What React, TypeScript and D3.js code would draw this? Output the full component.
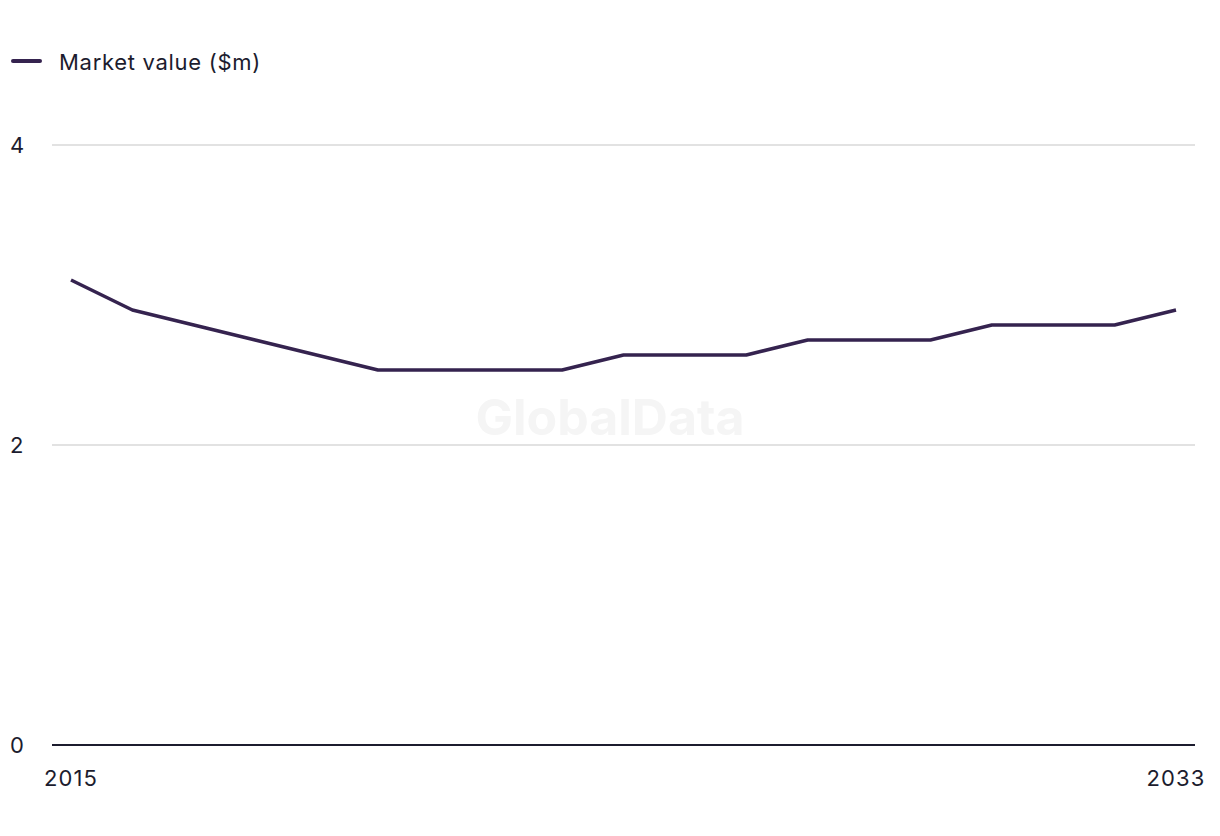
import React from "react";
import * as d3 from "d3";

const years = [2015, 2016, 2017, 2018, 2019, 2020, 2021, 2022, 2023, 2024, 2025, 2026, 2027, 2028, 2029, 2030, 2031, 2032, 2033];
const values = [3.1, 2.9, 2.8, 2.7, 2.6, 2.5, 2.5, 2.5, 2.5, 2.6, 2.6, 2.6, 2.7, 2.7, 2.7, 2.8, 2.8, 2.8, 2.9];
const yTicks = [0, 2, 4];
const xTickLabels = [2015, 2033];
const seriesName = "Market value ($m)";

const W = 1220;
const H = 836;
const FONT = "Inter, 'Liberation Sans', Arial, sans-serif";
const LINE_COLOR = "#35234f";
const TEXT_COLOR = "#1c1c2e";

export default function App() {
  const x = d3.scaleLinear().domain([2015, 2033]).range([71, 1176]);
  const y = d3.scaleLinear().domain([0, 4]).range([745, 145]);
  const data = years.map((yr, i) => ({ yr, v: values[i] }));
  const line = d3
    .line<{ yr: number; v: number }>()
    .x((d) => x(d.yr))
    .y((d) => y(d.v));

  return (
    <div style={{ position: "absolute", left: 0, top: 0 }}>
      <svg width={W} height={H} style={{ display: "block", background: "#fff" }}>
        {/* watermark */}
        <text x={610} y={435} textAnchor="middle" fontFamily={FONT} fontWeight={700} fontSize={50} fill="#f5f5f5">
          GlobalData
        </text>
        {/* legend */}
        <line x1={13} x2={40} y1={61} y2={61} stroke={LINE_COLOR} strokeWidth={4} strokeLinecap="round" />
        <text x={59} y={70} fontFamily={FONT} fontSize={22} letterSpacing={0.7} fill={TEXT_COLOR}>
          {seriesName}
        </text>
        {/* grid */}
        {yTicks.map((t) => (
          <g key={t}>
            {t !== 0 && (
              <line x1={52} x2={1195} y1={y(t)} y2={y(t)} stroke="#d8d8d8" strokeWidth={1.5} />
            )}
            <text x={10} y={y(t) + 8} fontFamily={FONT} fontSize={22} letterSpacing={1} fill={TEXT_COLOR}>
              {t}
            </text>
          </g>
        ))}
        {/* axis */}
        <line x1={52} x2={1195} y1={y(0)} y2={y(0)} stroke={TEXT_COLOR} strokeWidth={2} />
        {xTickLabels.map((t) => (
          <text key={t} x={x(t)} y={786} textAnchor="middle" fontFamily={FONT} fontSize={22} letterSpacing={1.1} fill={TEXT_COLOR}>
            {t}
          </text>
        ))}
        {/* series */}
        <path d={line(data) || ""} fill="none" stroke={LINE_COLOR} strokeWidth={3.5} strokeLinejoin="round" />
      </svg>
    </div>
  );
}
